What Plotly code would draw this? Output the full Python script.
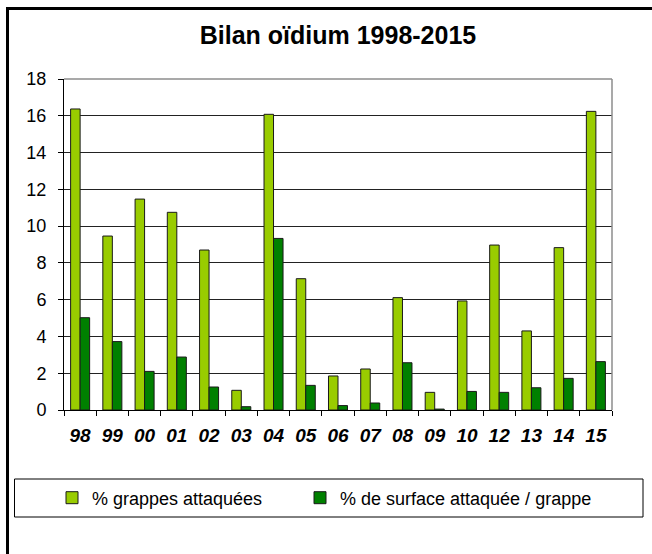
import plotly.graph_objects as go

# ---- data ----
years = ["98", "99", "00", "01", "02", "03", "04", "05", "06", "07", "08", "09", "10", "12", "13", "14", "15"]
grappes = [16.37, 9.46, 11.47, 10.75, 8.70, 1.07, 16.08, 7.14, 1.85, 2.23, 6.11, 0.96, 5.93, 8.97, 4.30, 8.83, 16.24]
surface = [5.02, 3.72, 2.10, 2.88, 1.25, 0.18, 9.33, 1.34, 0.24, 0.38, 2.57, 0.05, 1.01, 0.96, 1.21, 1.72, 2.63]
name_grappes = "% grappes attaquées"
name_surface = "% de surface attaquée / grappe"
title_text = "Bilan oïdium 1998-2015"
y_ticks = list(range(0, 19, 2))

W, H = 652, 554
# plot area in page pixels
PX0, PX1, PY0, PY1 = 64, 612, 79, 410
ML, MR, MT, MB = PX0, W - PX1, PY0, H - PY1
PW, PH = PX1 - PX0, PY1 - PY0


def vx(p):
    return (p - PX0) / PW


def vy(p):
    return (PY1 - p) / PH


FONT = "Arial, 'Liberation Sans', sans-serif"

fig = go.Figure()
fig.add_trace(go.Bar(x=years, y=grappes, name=name_grappes, legend="legend",
                     marker=dict(color="#99CC00", line=dict(color="#1a1a1a", width=1))))
fig.add_trace(go.Bar(x=years, y=surface, name=name_surface, legend="legend2",
                     marker=dict(color="#008000", line=dict(color="#1a1a1a", width=1))))

shapes = [
    # plot area top/right border (gray)
    dict(type="line", xref="paper", yref="paper", x0=0, x1=1, y0=1, y1=1,
         line=dict(color="#8c8c8c", width=1.5), layer="above"),
    dict(type="line", xref="paper", yref="paper", x0=1, x1=1, y0=0, y1=1,
         line=dict(color="#8c8c8c", width=1.5), layer="above"),
    # legend box
    dict(type="rect", xref="paper", yref="paper",
         x0=vx(14.5), x1=vx(643), y0=vy(517), y1=vy(479),
         line=dict(color="black", width=1), fillcolor="rgba(0,0,0,0)"),
    # outer chart frame (left and top visible)
    dict(type="line", xref="paper", yref="paper",
         x0=vx(7.5), x1=vx(7.5), y0=vy(7.5), y1=vy(600),
         line=dict(color="black", width=3), layer="above"),
    dict(type="line", xref="paper", yref="paper",
         x0=vx(6.0), x1=vx(652), y0=vy(8.5), y1=vy(8.5),
         line=dict(color="black", width=3), layer="above"),
]

legend_common = dict(orientation="h", xanchor="left", yanchor="middle",
                     font=dict(family=FONT, size=18, color="black"),
                     bgcolor="rgba(0,0,0,0)", borderwidth=0)

fig.update_layout(
    width=W, height=H,
    margin=dict(l=ML, r=MR, t=MT, b=MB, pad=0),
    paper_bgcolor="white", plot_bgcolor="white",
    barmode="group", bargap=0.41, bargroupgap=0,
    title=dict(text=title_text, x=0.5, xref="paper", xanchor="center",
               y=1 - 35 / H, yref="container", yanchor="middle",
               font=dict(family=FONT, size=25, color="black", weight="bold")),
    font=dict(family=FONT, color="black"),
    showlegend=True,
    legend=dict(x=vx(52), y=vy(498), **legend_common),
    legend2=dict(x=vx(300), y=vy(498), **legend_common),
    shapes=shapes,
)

fig.update_xaxes(
    type="category", showline=True, linecolor="black", linewidth=1,
    ticks="outside", tickson="boundaries", ticklen=5, tickcolor="black", tickwidth=1,
    showgrid=False, zeroline=False,
    tickfont=dict(family=FONT, size=19, color="black", weight="bold", style="italic"),
    ticklabelstandoff=8,
)
fig.update_yaxes(
    range=[0, 18], tickvals=y_ticks, showline=True, linecolor="black", linewidth=1,
    ticks="outside", ticklen=5, tickcolor="black", tickwidth=1,
    showgrid=True, gridcolor="#222222", gridwidth=1, zeroline=False,
    tickfont=dict(family=FONT, size=18, color="black"),
    ticklabelstandoff=8,
)

fig.write_html(
    "out.html",
    config={"displayModeBar": False},
    post_script="document.body.style.margin='0';document.body.style.overflow='hidden';",
)
